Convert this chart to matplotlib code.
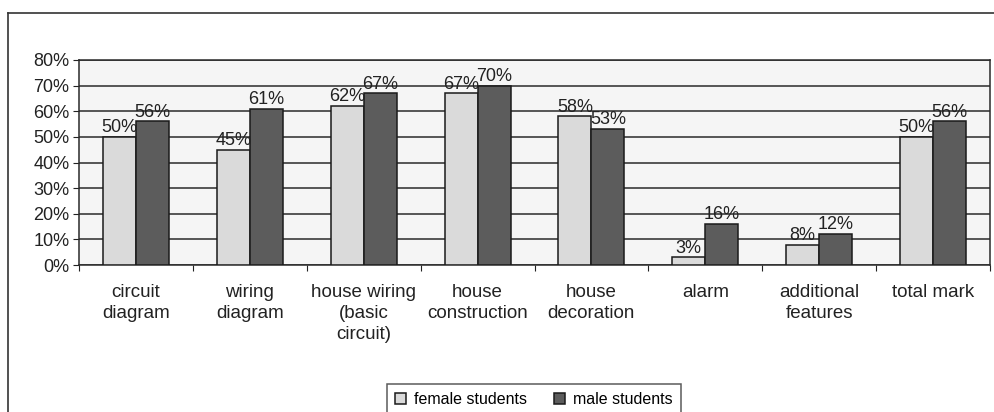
import numpy as np
import matplotlib.pyplot as plt
from matplotlib.lines import Line2D

plt.rcParams['font.family'] = ['Liberation Sans', 'DejaVu Sans']

categories = ["circuit\ndiagram", "wiring\ndiagram", "house wiring\n(basic\ncircuit)",
              "house\nconstruction", "house\ndecoration", "alarm",
              "additional\nfeatures", "total mark"]
female = [50, 45, 62, 67, 58, 3, 8, 50]
male = [56, 61, 67, 70, 53, 16, 12, 56]
yticks = [0, 10, 20, 30, 40, 50, 60, 70, 80]

fig = plt.figure(figsize=(9.95, 4.12), dpi=100)
ax = fig.add_axes([79 / 995, 1 - 265 / 412, (990 - 79) / 995, (265 - 60) / 412])
ax.set_facecolor('#f5f5f5')

x = np.arange(len(categories))
w = 0.29
b1 = ax.bar(x - w / 2, female, w, color='#dadada', edgecolor='#1a1a1a', linewidth=1.1,
            label='female students', zorder=3)
b2 = ax.bar(x + w / 2, male, w, color='#5c5c5c', edgecolor='#1a1a1a', linewidth=1.1,
            label='male students', zorder=3)

for bars, vals in ((b1, female), (b2, male)):
    for r, v in zip(bars, vals):
        ax.text(r.get_x() + r.get_width() / 2, v + 0.3, f"{v}%", ha='center', va='bottom',
                fontsize=13, color='#222222', zorder=4)

ax.set_xlim(-0.5, len(categories) - 0.5)
ax.set_ylim(0, 80)
ax.set_yticks(yticks)
ax.set_yticklabels([f"{t}%" for t in yticks], fontsize=13, color='#222222')
ax.yaxis.grid(True, color='#2a2a2a', linewidth=1.1, zorder=0)

# category boundaries get tick marks, labels sit at centres
ax.set_xticks(np.arange(len(categories) + 1) - 0.5)
ax.set_xticklabels([])
ax.set_xticks(x, minor=True)
ax.set_xticklabels(categories, minor=True, fontsize=13.5, color='#222222', linespacing=1.3)
ax.tick_params(axis='x', which='major', length=4, direction='out', color='#222222')
ax.tick_params(axis='x', which='minor', length=0, pad=14)
ax.tick_params(axis='y', length=4, direction='out', color='#222222', pad=3)

for s in ax.spines.values():
    s.set_color('#2a2a2a')
    s.set_linewidth(1.1)

# outer chart frame
fig.add_artist(Line2D([8 / 995, 8 / 995], [0, 1 - 13 / 412], transform=fig.transFigure,
                      color='#333333', linewidth=1.2))
fig.add_artist(Line2D([8 / 995, 1], [1 - 13 / 412, 1 - 13 / 412], transform=fig.transFigure,
                      color='#333333', linewidth=1.2))

leg = fig.legend(handles=[b1, b2], loc='upper left', bbox_to_anchor=(379 / 995, 1 - 376 / 412),
                 ncol=2, fontsize=11.5, frameon=True, fancybox=False, handlelength=0.7,
                 handleheight=0.7, handletextpad=0.5, columnspacing=1.7, borderpad=0.5)
leg.get_frame().set_edgecolor('#333333')
leg.get_frame().set_linewidth(1.1)

fig.savefig('out.png', dpi=100)
